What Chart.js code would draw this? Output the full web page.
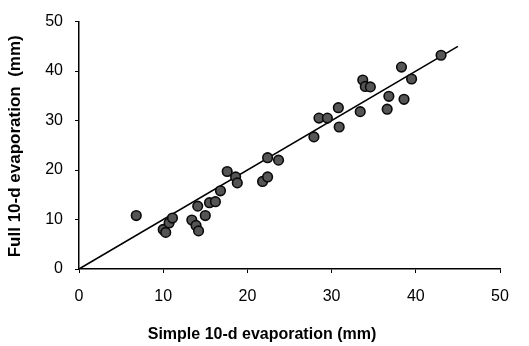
<!DOCTYPE html>
<html>
<head>
<meta charset="utf-8">
<script src="https://cdn.jsdelivr.net/npm/chart.js@4/dist/chart.umd.min.js"></script>
<style>
html,body{margin:0;padding:0;background:#fff;}
#wrap{width:529px;height:346px;position:relative;}
</style>
</head>
<body>
<div id="wrap"><canvas id="c" width="529" height="346"></canvas></div>
<script>
// Data
const simpleX = [6.8, 10.0, 10.3, 10.7, 11.1, 13.4, 13.9, 14.2, 14.1, 15.0, 15.5, 16.2, 16.8, 17.6, 18.6, 18.8, 21.8, 22.4, 22.4, 23.7, 27.9, 28.5, 29.5, 30.8, 30.9, 33.4, 33.7, 34.0, 34.6, 36.6, 36.8, 38.3, 38.6, 39.5, 43.0];
const fullY   = [10.8, 8.0, 7.4, 9.3, 10.3, 9.9, 8.8, 7.7, 12.7, 10.8, 13.4, 13.6, 15.8, 19.7, 18.6, 17.4, 17.7, 18.6, 22.5, 22.0, 26.7, 30.5, 30.5, 32.6, 28.7, 31.8, 38.2, 36.9, 36.8, 32.3, 34.9, 40.8, 34.3, 38.4, 43.2];
const lineX = [0, 45];
const lineY = [0, 45];
const tickValues = [0, 10, 20, 30, 40, 50];
const xTitle = "Simple 10-d evaporation (mm)";
const yTitle = "Full 10-d evaporation  (mm)";

const FONT = "'Liberation Sans', Arial, sans-serif";

const titlePlugin = {
  id: 'axisTitles',
  afterDraw(chart) {
    const ctx = chart.ctx;
    const a = chart.chartArea;
    ctx.save();
    ctx.fillStyle = '#000';
    ctx.textAlign = 'center';
    ctx.textBaseline = 'alphabetic';
    ctx.font = 'bold 16px ' + FONT;
    ctx.fillText(xTitle, a.left + 183, a.bottom + 70);
    ctx.font = 'bold 17px ' + FONT;
    ctx.translate(20, (a.top + a.bottom) / 2 + 1);
    ctx.rotate(-Math.PI / 2);
    ctx.fillText(yTitle, 0, 0);
    ctx.restore();
  }
};

const scatterPts = simpleX.map((x, i) => ({x: x, y: fullY[i]}));
const linePts = lineX.map((x, i) => ({x: x, y: lineY[i]}));

const axisCommon = {
  type: 'linear',
  min: 0, max: 50,
  afterBuildTicks(scale) { scale.ticks = tickValues.map(v => ({value: v})); },
  grid: { display: true, drawOnChartArea: false, drawTicks: true, tickLength: 4, color: '#000', lineWidth: 1 },
  border: { display: true, color: '#000', width: 1.5 },
  title: { display: false },
  ticks: { color: '#000', font: { family: FONT, size: 16 } }
};

new Chart(document.getElementById('c'), {
  type: 'scatter',
  data: {
    datasets: [
      {
        type: 'line',
        data: linePts,
        borderColor: '#000',
        borderWidth: 1.6,
        pointRadius: 0,
        fill: false,
        tension: 0,
        order: 2
      },
      {
        data: scatterPts,
        backgroundColor: '#555',
        borderColor: '#0a0a0a',
        borderWidth: 1.6,
        pointRadius: 4.8,
        order: 1
      }
    ]
  },
  options: {
    responsive: false,
    animation: false,
    devicePixelRatio: 1,
    layout: { padding: { left: 0, right: 29, top: 13, bottom: 0 } },
    plugins: { legend: { display: false }, tooltip: { enabled: false } },
    scales: {
      x: Object.assign({}, axisCommon, {
        position: 'bottom',
        ticks: Object.assign({}, axisCommon.ticks, { padding: 14, maxRotation: 0 }),
        afterFit(scale) { scale.height = 77; }
      }),
      y: Object.assign({}, axisCommon, {
        position: 'left',
        ticks: Object.assign({}, axisCommon.ticks, { padding: 12 }),
        afterFit(scale) { scale.width = 79; }
      })
    }
  },
  plugins: [titlePlugin]
});
</script>
</body>
</html>
